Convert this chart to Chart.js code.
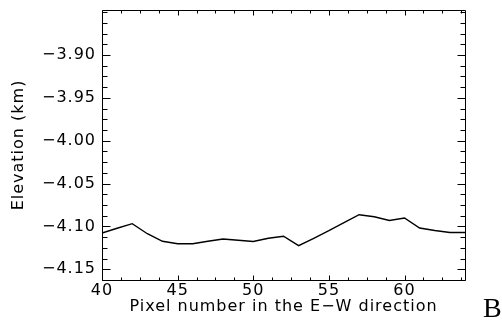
<!DOCTYPE html>
<html>
<head>
<meta charset="utf-8">
<script src="https://cdn.jsdelivr.net/npm/chart.js@4.4.1/dist/chart.umd.min.js"></script>
<style>
  html, body { margin: 0; padding: 0; background: #fff; }
  #wrap { width: 502px; height: 324px; position: relative; }
</style>
</head>
<body>
<div id="wrap"><canvas id="c"></canvas></div>
<script>
// Elevation profile along the E-W pixel direction
const pixelNumber = [40, 41, 42, 43, 44, 45, 46, 47, 48, 49, 50, 51, 52,
                     53, 54, 55, 56, 57, 58, 59, 60, 61, 62, 63, 64];
const elevationKm = [-4.1077, -4.1021, -4.0968, -4.1085, -4.1173, -4.1202, -4.1202,
                     -4.1173, -4.1147, -4.1161, -4.1175, -4.1138, -4.1114, -4.1225,
                     -4.1138, -4.1050, -4.0957, -4.0863, -4.0887, -4.0930, -4.0902,
                     -4.1019, -4.1047, -4.1070, -4.1070];

const xTickValues = [40, 45, 50, 55, 60];
const yTickValues = [-4.15, -4.10, -4.05, -4.00, -3.95, -3.90];

const X_MIN = 40, X_MAX = 64;
const Y_MIN = -4.1625, Y_MAX = -3.8475;
const X_MINOR_STEP = 1.25;     // four minor intervals per major
const Y_MINOR_STEP = 0.0125;

const minus = '\u2212';

// Wider glyph spacing for all chart text
const spacingPlugin = {
  id: 'spacing',
  beforeDraw(chart) { chart.ctx.letterSpacing = '1px'; }
};

// Box frame with inward ticks on all four sides
const framePlugin = {
  id: 'frame',
  afterDraw(chart) {
    const { ctx, chartArea: a, scales: { x, y } } = chart;
    const L = Math.round(a.left) + 0.5, R = Math.round(a.right) + 0.5;
    const T = Math.round(a.top) + 0.5, B = Math.round(a.bottom) + 0.5;
    ctx.save();
    ctx.letterSpacing = '0px';
    ctx.strokeStyle = '#000';
    ctx.lineWidth = 1;
    ctx.beginPath();
    ctx.rect(L, T, R - L, B - T);

    const eps = 1e-9;
    for (let v = X_MIN; v <= X_MAX + eps; v += X_MINOR_STEP) {
      const px = Math.round(x.getPixelForValue(v)) + 0.5;
      const major = xTickValues.some(t => Math.abs(t - v) < 1e-6);
      const len = major ? 5 : 3;
      ctx.moveTo(px, B); ctx.lineTo(px, B - len);
      ctx.moveTo(px, T); ctx.lineTo(px, T + len);
    }
    for (let v = Y_MIN; v <= Y_MAX + eps; v += Y_MINOR_STEP) {
      const py = Math.round(y.getPixelForValue(v)) + 0.5;
      const major = yTickValues.some(t => Math.abs(t - v) < 1e-6);
      const len = major ? 8 : 5;
      ctx.moveTo(L, py); ctx.lineTo(L + len, py);
      ctx.moveTo(R, py); ctx.lineTo(R - len, py);
    }
    ctx.stroke();

    // panel letter
    ctx.fillStyle = '#000';
    ctx.font = '28px "Liberation Serif"';
    ctx.textAlign = 'left';
    ctx.textBaseline = 'alphabetic';
    ctx.fillText('B', 483, 317);
    ctx.restore();
  }
};

Chart.defaults.font.family = '"DejaVu Sans"';
Chart.defaults.font.size = 16;
Chart.defaults.color = '#000';

new Chart(document.getElementById('c'), {
  type: 'line',
  data: {
    datasets: [{
      data: pixelNumber.map((p, i) => ({ x: p, y: elevationKm[i] })),
      borderColor: '#000',
      borderWidth: 1.4,
      pointRadius: 0,
      tension: 0,
      fill: false
    }]
  },
  options: {
    responsive: true,
    maintainAspectRatio: false,
    animation: false,
    devicePixelRatio: 1,
    layout: { padding: { left: 0, right: 37, top: 10, bottom: 0 } },
    plugins: { legend: { display: false }, tooltip: { enabled: false } },
    scales: {
      x: {
        type: 'linear',
        min: X_MIN,
        max: X_MAX,
        grid: { display: false, drawTicks: false },
        border: { display: false },
        afterBuildTicks(scale) { scale.ticks = xTickValues.map(v => ({ value: v })); },
        afterFit(scale) {
          scale.height = 44;
          scale.paddingLeft = 0; scale.paddingRight = 0;
        },
        ticks: { padding: 1, maxRotation: 0, autoSkip: false, callback: v => String(v) },
        title: {
          display: true,
          text: 'Pixel number in the E' + minus + 'W direction',
          padding: { top: 0, bottom: 7.4 }
        }
      },
      y: {
        type: 'linear',
        min: Y_MIN,
        max: Y_MAX,
        grid: { display: false, drawTicks: false },
        border: { display: false },
        afterBuildTicks(scale) { scale.ticks = yTickValues.map(v => ({ value: v })); },
        afterFit(scale) {
          scale.width = 102;
          scale.paddingTop = 0; scale.paddingBottom = 0;
        },
        ticks: {
          padding: 6,
          autoSkip: false,
          callback: v => minus + Math.abs(v).toFixed(2)
        },
        title: {
          display: true,
          text: 'Elevation (km)',
          padding: { top: 9.4, bottom: 0 }
        }
      }
    }
  },
  plugins: [spacingPlugin, framePlugin]
});
</script>
</body>
</html>
